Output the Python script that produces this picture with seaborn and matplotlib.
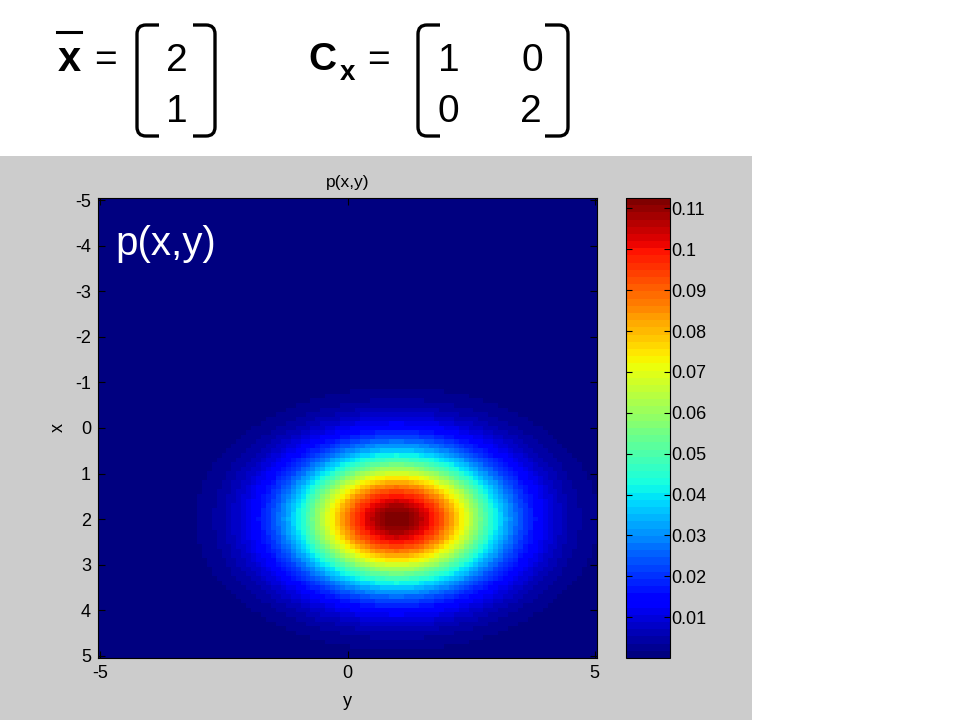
import numpy as np
import seaborn as sns
import matplotlib
matplotlib.use("Agg")
import matplotlib.pyplot as plt
from matplotlib.colors import ListedColormap
from matplotlib.patches import Rectangle, PathPatch
from matplotlib.path import Path
from matplotlib.lines import Line2D
from matplotlib.ticker import FuncFormatter

# values shown on the slide
mean_vec = [2, 1]
cov_mat = [[1, 0], [0, 2]]

# sampling grid of the image (x down the rows, y across the columns)
grid_x = np.linspace(-5, 5, 101)
grid_y = np.linspace(-5, 5, 101)

x_ticks = [-5, -4, -3, -2, -1, 0, 1, 2, 3, 4, 5]
y_ticks = [-5, 0, 5]
cbar_ticks = [0.01, 0.02, 0.03, 0.04, 0.05, 0.06, 0.07, 0.08, 0.09, 0.1, 0.11]

plt.rcParams['font.family'] = ['Liberation Sans', 'DejaVu Sans']

# gaussian density p(x,y)
mu = np.array(mean_vec, dtype=float)
cov = np.array(cov_mat, dtype=float)
icov = np.linalg.inv(cov)
X, Y = np.meshgrid(grid_x, grid_y, indexing='ij')
d0 = X - mu[0]
d1 = Y - mu[1]
q = icov[0, 0] * d0**2 + 2 * icov[0, 1] * d0 * d1 + icov[1, 1] * d1**2
Z = np.exp(-q / 2) / (2 * np.pi * np.sqrt(np.linalg.det(cov)))

W, H = 960, 720
fig = plt.figure(figsize=(9.6, 7.2), dpi=100, facecolor='white')


def fx(px):
    return px / W


def fy(py):
    return 1 - py / H


# grey matlab figure area
fig.add_artist(Rectangle((0, 0), fx(752), fy(156), transform=fig.transFigure,
                         facecolor='#cccccc', edgecolor='none', zorder=-5))

ax = fig.add_axes([fx(98), fy(658), fx(597) - fx(98), fy(198) - fy(658)])
cax = fig.add_axes([fx(626), fy(658), fx(670) - fx(626), fy(198) - fy(658)])

jet64 = ListedColormap(plt.get_cmap('jet')(np.linspace(0, 1, 64)))
sns.heatmap(Z, ax=ax, cbar_ax=cax, cmap=jet64, vmin=Z.min(), vmax=Z.max(),
            xticklabels=False, yticklabels=False,
            cbar_kws={'ticks': cbar_ticks, 'format': FuncFormatter(lambda v, p: '%g' % v)})

xpos = [int(np.argmin(np.abs(grid_y - v))) + 0.5 for v in y_ticks]
ypos = [int(np.argmin(np.abs(grid_x - v))) + 0.5 for v in x_ticks]
ax.set_xticks(xpos)
ax.set_xticklabels([str(v) for v in y_ticks], rotation=0)
ax.set_yticks(ypos)
ax.set_yticklabels([str(v) for v in x_ticks], rotation=0)
ax.tick_params(direction='in', length=5, width=0.8, top=True, right=True,
               labelsize=13, pad=5, colors='black')
for s in ax.spines.values():
    s.set_visible(True)
    s.set_color('black')
    s.set_linewidth(0.8)

ax.set_title('p(x,y)', fontsize=12.5, pad=8)
ax.set_xlabel('y', fontsize=13, labelpad=8)
ax.set_ylabel('x', fontsize=13, labelpad=6)
ax.text(0.035, 0.876, 'p(x,y)', transform=ax.transAxes, color='white',
        fontsize=29, va='baseline', ha='left')

cax.tick_params(direction='in', length=4, width=0.8, left=True, right=True,
                labelsize=13, pad=1, colors='black')
cbar = ax.collections[0].colorbar
cbar.outline.set_visible(True)
cbar.outline.set_linewidth(0.8)
cbar.outline.set_edgecolor('black')

# equation header
big = 28
fig.text(fx(69), fy(71), 'x', fontsize=30, fontweight='bold', ha='center', va='baseline')
fig.add_artist(Line2D([fx(57), fx(81)], [fy(32), fy(32)], color='black', lw=2.2,
                      transform=fig.transFigure))
fig.text(fx(105), fy(71), '=', fontsize=big, ha='center', va='baseline')
fig.text(fx(177), fy(71), str(mean_vec[0]), fontsize=big, ha='center', va='baseline')
fig.text(fx(177), fy(122), str(mean_vec[1]), fontsize=big, ha='center', va='baseline')

fig.text(fx(322), fy(70), 'C', fontsize=big, fontweight='bold', ha='center', va='baseline')
fig.text(fx(347), fy(80), 'x', fontsize=20, fontweight='bold', ha='center', va='baseline')
fig.text(fx(378), fy(71), '=', fontsize=big, ha='center', va='baseline')
fig.text(fx(449), fy(71), str(cov_mat[0][0]), fontsize=big, ha='center', va='baseline')
fig.text(fx(532), fy(71), str(cov_mat[0][1]), fontsize=big, ha='center', va='baseline')
fig.text(fx(448), fy(122), str(cov_mat[1][0]), fontsize=big, ha='center', va='baseline')
fig.text(fx(531), fy(122), str(cov_mat[1][1]), fontsize=big, ha='center', va='baseline')


def bracket(xv, xend, top, bot):
    # rounded matrix bracket, vertical stroke at xv, hooks ending at xend
    s = 1 if xend > xv else -1
    c = 9
    verts = [(xend, top), (xv + s * c, top), (xv, top), (xv, top + c),
             (xv, bot - c), (xv, bot), (xv + s * c, bot), (xend, bot)]
    codes = [Path.MOVETO, Path.LINETO, Path.CURVE3, Path.CURVE3,
             Path.LINETO, Path.CURVE3, Path.CURVE3, Path.LINETO]
    verts = [(fx(a), fy(b)) for a, b in verts]
    fig.add_artist(PathPatch(Path(verts, codes), facecolor='none', edgecolor='black',
                             lw=2.4, transform=fig.transFigure, capstyle='butt'))


bracket(137, 159, 25, 136)
bracket(215, 193, 25, 136)
bracket(418, 440, 25, 136)
bracket(568, 545, 25, 136)

fig.savefig('out.png', dpi=100, facecolor='white')
